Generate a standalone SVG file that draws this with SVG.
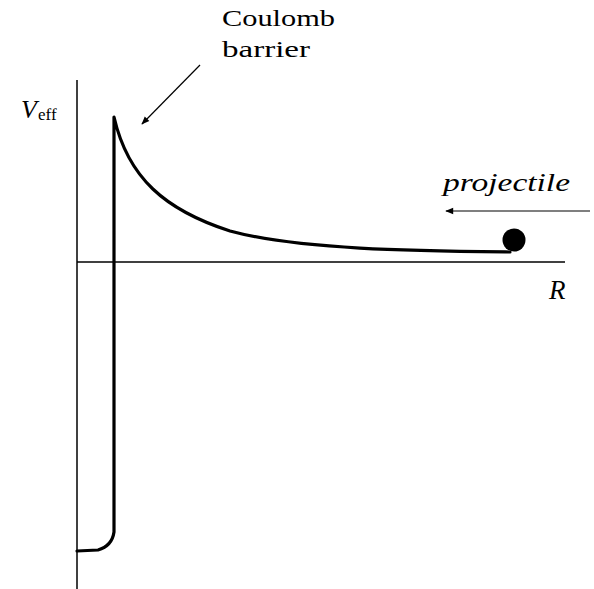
<svg xmlns="http://www.w3.org/2000/svg" width="594" height="589" viewBox="0 0 594 589">
<style>
.axis{stroke:#000;stroke-width:1.5;fill:none}
.pot{stroke:#000;stroke-width:3.2;fill:none;stroke-linejoin:round;stroke-linecap:round}
.thin{stroke:#000;stroke-width:1.2;fill:none}
</style>
<defs>
<marker id="ah" viewBox="0 0 10 10" refX="9" refY="5" markerWidth="11" markerHeight="8" markerUnits="userSpaceOnUse" orient="auto">
<path d="M0,1 L10,5 L0,9 Z" fill="#000"/>
</marker>
</defs>
<rect width="594" height="589" fill="#fff"/>
<g id="axes">
<line class="axis" x1="77" y1="80" x2="77" y2="589"/>
<line class="axis" x1="77" y1="262" x2="565" y2="262"/>
</g>
<g id="potential">
<path class="pot" d="M77,551 L98,550 Q112,546 114,532 L114,117 C128,178 165,210 230,231 C300,250 420,251 510,252"/>
</g>
<g id="projectile">
<circle cx="514" cy="240" r="11.5" fill="#000"/>
</g>
<g id="connectors">
<line class="thin" x1="200" y1="65" x2="142" y2="124" marker-end="url(#ah)"/>
<line class="thin" x1="590" y1="211" x2="446" y2="211" marker-end="url(#ah)"/>
</g>
<g id="labels" font-family="'Liberation Serif', serif" fill="#000">
<text x="222" y="26" font-size="24" textLength="113" lengthAdjust="spacingAndGlyphs">Coulomb</text>
<text x="222" y="57" font-size="24" textLength="88" lengthAdjust="spacingAndGlyphs">barrier</text>
<text x="21" y="118" font-size="26" font-style="italic">V</text>
<text x="38" y="120" font-size="17">eff</text>
<text x="443" y="191" font-size="25" font-style="italic" textLength="127" lengthAdjust="spacingAndGlyphs">projectile</text>
<text x="549" y="299" font-size="27" font-style="italic">R</text>
</g>
</svg>
